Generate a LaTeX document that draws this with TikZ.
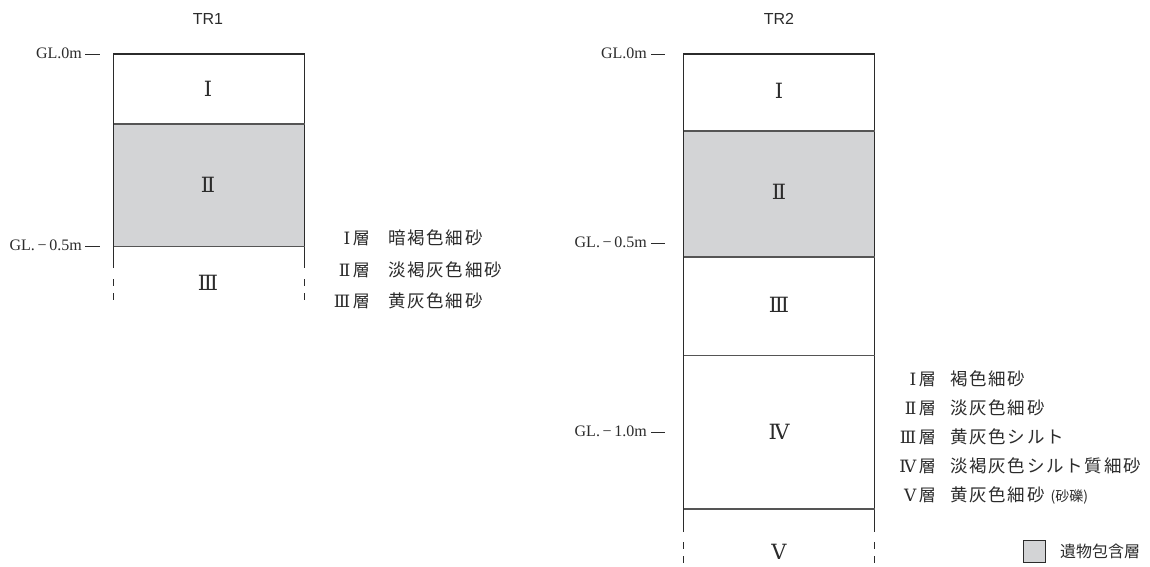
\documentclass[tikz,border=0pt]{standalone}
\usepackage{fontspec}
\setmainfont{Liberation Serif}
\newfontfamily\jp{Noto Sans CJK JP}[LetterSpace=10]
\newfontfamily\jpn{Noto Sans CJK JP}
\newfontfamily\rom{DejaVu Serif}
\newfontfamily\hdr{Liberation Sans}
\definecolor{ink}{HTML}{2B2B2B}
\definecolor{layer}{HTML}{D3D4D6}
\definecolor{sep}{HTML}{555555}
\tikzset{
  col/.style={draw=ink, line width=1.1pt},
  sepline/.style={draw=sep, line width=1.2pt},
  dashpart/.style={draw=ink, line width=1.2pt, dash pattern=on 7pt off 7pt},
  tick/.style={draw=ink, line width=0.9pt},
  gl/.style={anchor=east, inner sep=0pt, font=\fontsize{16}{16}\selectfont, text=ink},
  num/.style={inner sep=0pt, font=\rom\fontsize{21}{21}\selectfont, text=ink},
  title/.style={inner sep=0pt, font=\hdr\fontsize{16}{16}\selectfont, text=ink},
  lk/.style={anchor=east, inner sep=0pt, text=ink},
  lv/.style={anchor=west, inner sep=0pt, font=\jp\fontsize{17.5}{17.5}\selectfont, text=ink}
}
\newcommand{\lkey}[1]{{\rom\fontsize{17}{17}\selectfont #1}\hspace{2.5pt}{\jpn\fontsize{17}{17}\selectfont 層}}
\begin{document}
\begin{tikzpicture}[x=1pt,y=-1pt]
\useasboundingbox (0,0) rectangle (1150,566);
% ---------------- TR1 ----------------
\node[title] (t1) at (208,19) {TR1};
\fill[layer] (113.5,124) rectangle (304.5,246.5);
\draw[col] (113.5,268) -- (113.5,54) -- (304.5,54) -- (304.5,268);
\draw[sepline] (113.5,124) -- (304.5,124);
\draw[sepline] (113.5,246.5) -- (304.5,246.5);
\draw[dashpart] (113.5,279) -- (113.5,302);
\draw[dashpart] (304.5,279) -- (304.5,302);
\node[num] (a1) at (208,89) {Ⅰ};
\node[num] (a2) at (208,185) {Ⅱ};
\node[num] (a3) at (208,283) {Ⅲ};
\coordinate (g1a) at (85,54);
\coordinate (g1b) at (100,54);
\draw[tick] (g1a) -- (g1b);
\node[gl] (g1) at (82,53) {GL.0m};
\coordinate (g2a) at (85,246);
\coordinate (g2b) at (100,246);
\draw[tick] (g2a) -- (g2b);
\node[gl] (g2) at (82,245) {GL.\,−\,0.5m};
\node[lk] (k11) at (370,238) {\lkey{Ⅰ}};
\node[lk] (k12) at (370,270) {\lkey{Ⅱ}};
\node[lk] (k13) at (370,301) {\lkey{Ⅲ}};
\node[lv] (v11) at (388,238) {暗褐色細砂};
\node[lv] (v12) at (388,270) {淡褐灰色細砂};
\node[lv] (v13) at (388,301) {黄灰色細砂};
% ---------------- TR2 ----------------
\node[title] (t2) at (779,19) {TR2};
\fill[layer] (683.5,131) rectangle (874.5,257);
\draw[col] (683.5,532) -- (683.5,54) -- (874.5,54) -- (874.5,532);
\draw[sepline] (683.5,131) -- (874.5,131);
\draw[sepline] (683.5,257) -- (874.5,257);
\draw[sepline] (683.5,355.5) -- (874.5,355.5);
\draw[sepline] (683.5,509) -- (874.5,509);
\draw[dashpart] (683.5,542) -- (683.5,566);
\draw[dashpart] (874.5,542) -- (874.5,566);
\node[num] (b1) at (779,91) {Ⅰ};
\node[num] (b2) at (779,192) {Ⅱ};
\node[num] (b3) at (779,305) {Ⅲ};
\node[num] (b4) at (779,432) {Ⅳ};
\node[num] (b5) at (779,552) {Ⅴ};
\coordinate (h1a) at (651,54);
\coordinate (h1b) at (665,54);
\draw[tick] (h1a) -- (h1b);
\node[gl] (h1) at (647,53) {GL.0m};
\coordinate (h2a) at (651,243);
\coordinate (h2b) at (665,243);
\draw[tick] (h2a) -- (h2b);
\node[gl] (h2) at (647,242) {GL.\,−\,0.5m};
\coordinate (h3a) at (651,432);
\coordinate (h3b) at (665,432);
\draw[tick] (h3a) -- (h3b);
\node[gl] (h3) at (647,431) {GL.\,−\,1.0m};
\node[lk] (k21) at (936,379) {\lkey{Ⅰ}};
\node[lk] (k22) at (936,408) {\lkey{Ⅱ}};
\node[lk] (k23) at (936,437) {\lkey{Ⅲ}};
\node[lk] (k24) at (936,466) {\lkey{Ⅳ}};
\node[lk] (k25) at (936,495) {\lkey{Ⅴ}};
\node[lv] (v21) at (950,379) {褐色細砂};
\node[lv] (v22) at (950,408) {淡灰色細砂};
\node[lv] (v23) at (950,437) {黄灰色シルト};
\node[lv] (v24) at (950,466) {淡褐灰色シルト質細砂};
\node[lv] (v25) at (950,495) {黄灰色細砂\hspace{6pt}{\jpn\fontsize{14}{14}\selectfont (砂礫)}};
\node[draw=ink, line width=0.9pt, fill=layer, minimum width=22pt, minimum height=22pt, inner sep=0pt] (lg) at (1034,551) {};
\node[anchor=west, inner sep=0pt, font=\jpn\fontsize{16}{16}\selectfont, text=ink] (lgt) at (1060,551) {遺物包含層};
\end{tikzpicture}
\end{document}
